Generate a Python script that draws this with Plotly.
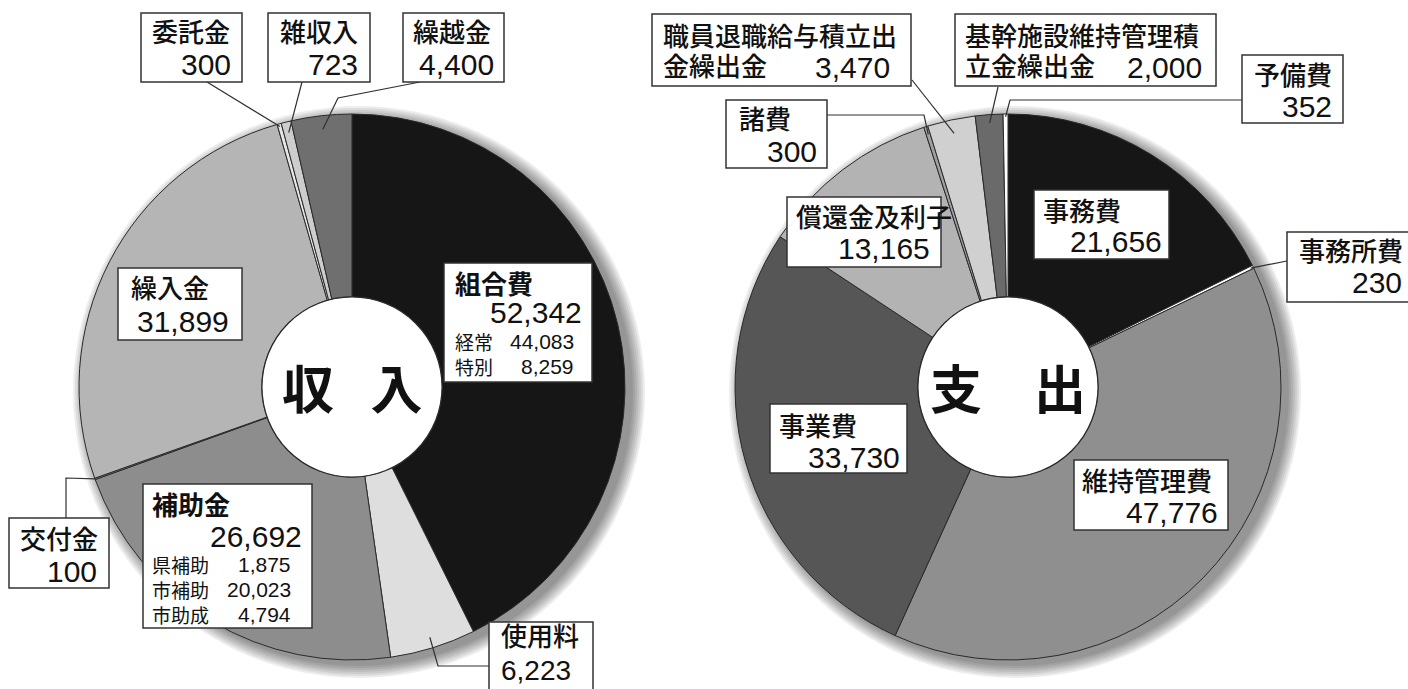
import math
import plotly.graph_objects as go

# ---------------- data ----------------
inc_labels = ["組合費", "使用料", "補助金", "交付金", "繰入金", "委託金", "雑収入", "繰越金"]
inc_values = [52342, 6223, 26692, 100, 31899, 300, 723, 4400]
inc_colors = ["#161616", "#dedede", "#8d8d8d", "#9a9a9a", "#b5b5b5", "#e6e6e6", "#cdcdcd", "#6f6f6f"]

kumiai_sub_labels = ["経常", "特別"]
kumiai_sub_values = [44083, 8259]
hojo_sub_labels = ["県補助", "市補助", "市助成"]
hojo_sub_values = [1875, 20023, 4794]

exp_labels = ["事務費", "事務所費", "維持管理費", "事業費", "償還金及利子", "諸費",
              "職員退職給与積立出金繰出金", "基幹施設維持管理積立金繰出金", "予備費"]
exp_values = [21656, 230, 47776, 33730, 13165, 300, 3470, 2000, 352]
exp_colors = ["#161616", "#ffffff", "#8f8f8f", "#565656", "#b3b3b3", "#a0a0a0", "#d0d0d0", "#6a6a6a", "#ffffff"]

center_titles = ["収\u2002\u2009入", "支\u3000出"]

# ---------------- geometry (pixels) ----------------
W, H = 1408, 689
R = 273
INC_C = (352, 387)
EXP_C = (1008, 387)
HOLE = 0.33


def px(x):
    return x / W


def py(y):
    return 1 - y / H


def slice_point(values, idx, center, rf=0.95, frac=0.5):
    tot = sum(values)
    cum = sum(values[:idx]) + values[idx] * frac
    ang = cum / tot * 2 * math.pi
    return (center[0] + R * rf * math.sin(ang), center[1] - R * rf * math.cos(ang))


def domain(c):
    return dict(x=[px(c[0] - R), px(c[0] + R)], y=[py(c[1] + R), py(c[1] - R)])


fig = go.Figure()
for labels, values, colors, c in [(inc_labels, inc_values, inc_colors, INC_C),
                                  (exp_labels, exp_values, exp_colors, EXP_C)]:
    fig.add_trace(go.Pie(
        labels=labels, values=values, sort=False, direction="clockwise", rotation=0,
        hole=HOLE, domain=domain(c), textinfo="none", showlegend=False,
        marker=dict(colors=colors, line=dict(color="#2a2a2a", width=1)),
        hoverinfo="label+value",
    ))

shapes = []
annotations = []

# soft shadows behind pies
for c in (INC_C, EXP_C):
    for k in range(7):
        rr = R + 1 + k * 2
        cx, cy = c[0] + 7, c[1] + 5
        shapes.append(dict(type="circle", xref="paper", yref="paper", layer="below",
                           x0=px(cx - rr), x1=px(cx + rr), y0=py(cy + rr), y1=py(cy - rr),
                           fillcolor="rgba(0,0,0,0.07)", line=dict(width=0)))
# white centre discs with outline
for c in (INC_C, EXP_C):
    rh = R * HOLE
    shapes.append(dict(type="circle", xref="paper", yref="paper", layer="above",
                       x0=px(c[0] - rh), x1=px(c[0] + rh), y0=py(c[1] + rh), y1=py(c[1] - rh),
                       fillcolor="white", line=dict(color="#2a2a2a", width=1.3)))

FONT = "Liberation Sans, Noto Sans CJK JP, sans-serif"
CJK = "Noto Sans CJK JP, sans-serif"


def leader(points):
    d = "M " + " L ".join(f"{px(x)},{py(y)}" for x, y in points)
    shapes.append(dict(type="path", xref="paper", yref="paper", path=d, layer="above",
                       line=dict(color="#303030", width=1.2)))


def box(x0, y0, x1, y1):
    shapes.append(dict(type="rect", xref="paper", yref="paper", layer="above",
                       x0=px(x0), x1=px(x1), y0=py(y1), y1=py(y0),
                       fillcolor="white", line=dict(color="#333333", width=1.5)))


def txt(x, y, s, anchor="left", size=26, weight=500, family=FONT):
    annotations.append(dict(x=px(x), y=py(y), xref="paper", yref="paper", text=s,
                            showarrow=False, xanchor=anchor, yanchor="middle",
                            font=dict(size=size, color="#111111", family=family, weight=weight)))


fmt = lambda v: f"{v:,}"

# ---------------- leaders (income) ----------------
leader([(207, 82), slice_point(inc_values, 5, INC_C, 0.99)])
leader([(302, 82), slice_point(inc_values, 6, INC_C, 0.96)])
leader([(420, 82), (338, 98), slice_point(inc_values, 7, INC_C, 0.95)])
leader([(66, 518), (66, 478), slice_point(inc_values, 3, INC_C, 1.0)])
leader([(489, 666), (438, 666), slice_point(inc_values, 1, INC_C, 0.96)])

# ---------------- leaders (expenditure) ----------------
leader([(912, 80), slice_point(exp_values, 6, EXP_C, 0.95)])
leader([(998, 87), slice_point(exp_values, 7, EXP_C, 0.97)])
leader([(1242, 100), (1010, 100), slice_point(exp_values, 8, EXP_C, 0.99)])
leader([(827, 115), (924, 115), slice_point(exp_values, 5, EXP_C, 0.97)])
leader([(1287, 261), slice_point(exp_values, 1, EXP_C, 0.99)])

# ---------------- income boxes ----------------
for (x0, x1, idx, nl, vr) in [(141, 242, 5, 150, 233), (268, 370, 6, 278, 360), (403, 504, 7, 411, 496)]:
    box(x0, 13, x1, 82)
    txt(nl, 33, inc_labels[idx])
    txt(vr, 64, fmt(inc_values[idx]), anchor="right", size=30, weight=400)

# 繰入金
box(118, 268, 242, 340)
txt(129, 289, inc_labels[4])
txt(231, 321, fmt(inc_values[4]), anchor="right", size=30, weight=400)

# 組合費
box(444, 263, 592, 382)
txt(453, 285, inc_labels[0], weight=700)
txt(584, 312, fmt(inc_values[0]), anchor="right", size=30, weight=400)
for i, (lab, v) in enumerate(zip(kumiai_sub_labels, kumiai_sub_values)):
    yy = 341 + i * 25
    txt(453, yy, lab, size=19, weight=400, family=CJK)
    txt(576, yy, fmt(v), anchor="right", size=21, weight=400)

# 補助金
box(143, 484, 312, 628)
txt(150, 506, inc_labels[2], weight=700)
txt(304, 536, fmt(inc_values[2]), anchor="right", size=30, weight=400)
for i, (lab, v) in enumerate(zip(hojo_sub_labels, hojo_sub_values)):
    yy = 564 + i * 25
    txt(150, yy, lab, size=19, weight=400, family=CJK)
    txt(293, yy, fmt(v), anchor="right", size=21, weight=400)

# 交付金
box(9, 518, 109, 588)
txt(18, 540, inc_labels[3])
txt(99, 571, fmt(inc_values[3]), anchor="right", size=30, weight=400)

# 使用料
box(489, 622, 593, 700)
txt(499, 637, inc_labels[1])
txt(499, 670, fmt(inc_values[1]), anchor="left", size=28, weight=400)

# ---------------- expenditure boxes ----------------
n6 = exp_labels[6]
box(652, 14, 911, 86)
txt(661, 37, n6[:9])
txt(661, 67, n6[9:])
txt(892, 67, fmt(exp_values[6]), anchor="right", size=30, weight=400)

n7 = exp_labels[7]
box(955, 14, 1216, 86)
txt(963, 37, n7[:9])
txt(963, 67, n7[9:])
txt(1204, 67, fmt(exp_values[7]), anchor="right", size=30, weight=400)

box(1242, 55, 1343, 123)
txt(1252, 76, exp_labels[8])
txt(1334, 106, fmt(exp_values[8]), anchor="right", size=30, weight=400)

box(726, 100, 827, 168)
txt(737, 120, exp_labels[5])
txt(819, 152, fmt(exp_values[5]), anchor="right", size=30, weight=400)

box(787, 197, 941, 267)
txt(794, 218, exp_labels[4])
txt(932, 248, fmt(exp_values[4]), anchor="right", size=30, weight=400)

box(1034, 190, 1169, 259)
txt(1041, 212, exp_labels[0])
txt(1164, 241, fmt(exp_values[0]), anchor="right", size=30, weight=400)

box(1287, 232, 1420, 302)
txt(1297, 252, exp_labels[1])
txt(1404, 282, fmt(exp_values[1]), anchor="right", size=30, weight=400)

box(770, 404, 907, 473)
txt(777, 427, exp_labels[3])
txt(902, 457, fmt(exp_values[3]), anchor="right", size=30, weight=400)

box(1074, 460, 1228, 530)
txt(1080, 482, exp_labels[2])
txt(1220, 512, fmt(exp_values[2]), anchor="right", size=30, weight=400)

# center titles
for title, c in zip(center_titles, (INC_C, EXP_C)):
    txt(c[0], c[1] - 1, title, anchor="center", size=52, weight=700, family=CJK)

fig.update_layout(
    width=W, height=H, margin=dict(l=0, r=0, t=0, b=0),
    paper_bgcolor="#ffffff", plot_bgcolor="#ffffff",
    shapes=shapes, annotations=annotations, showlegend=False,
)

fig.write_html("out.html")
